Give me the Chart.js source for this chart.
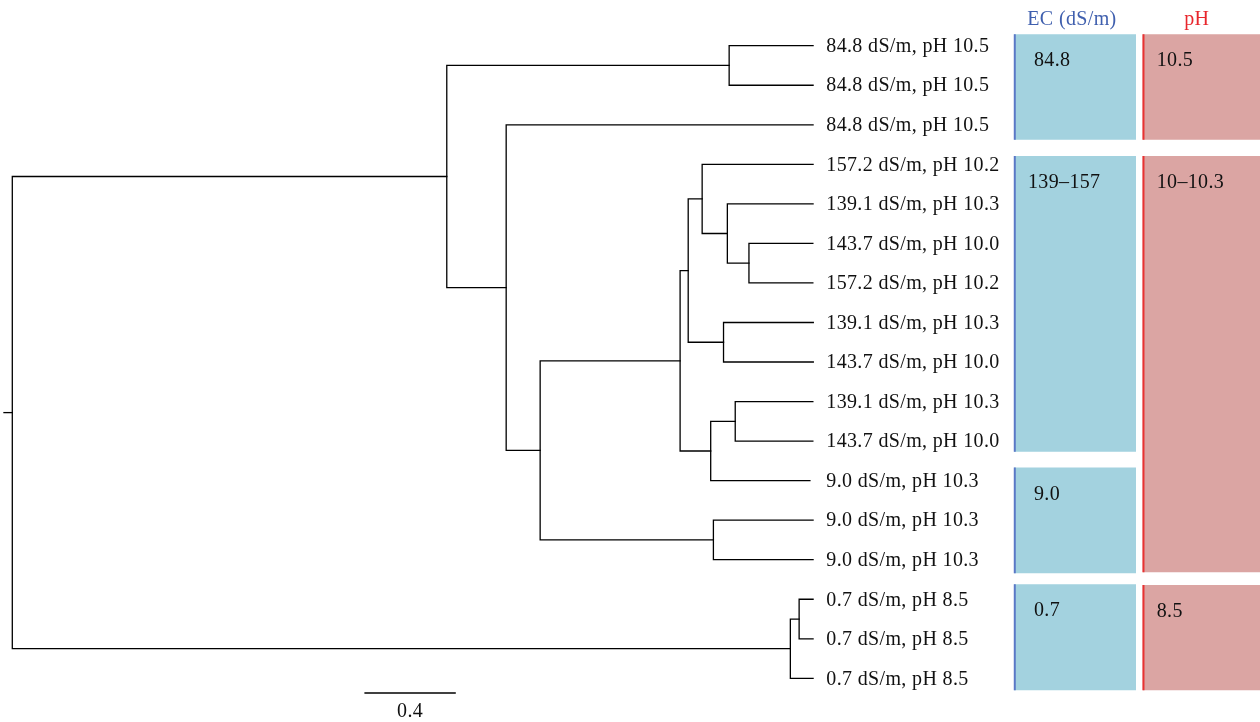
<!DOCTYPE html>
<html><head><meta charset="utf-8">
<script src="https://cdn.jsdelivr.net/npm/chart.js@4.4.1/dist/chart.umd.min.js"></script>
<style>html,body{margin:0;padding:0;background:#fff}canvas{display:block}</style>
</head><body>
<canvas id="c" width="1260" height="722"></canvas>
<script>
// ---------- data ----------
const leafLabels = [
  '84.8 dS/m, pH 10.5','84.8 dS/m, pH 10.5','84.8 dS/m, pH 10.5',
  '157.2 dS/m, pH 10.2','139.1 dS/m, pH 10.3','143.7 dS/m, pH 10.0','157.2 dS/m, pH 10.2',
  '139.1 dS/m, pH 10.3','143.7 dS/m, pH 10.0','139.1 dS/m, pH 10.3','143.7 dS/m, pH 10.0',
  '9.0 dS/m, pH 10.3','9.0 dS/m, pH 10.3','9.0 dS/m, pH 10.3',
  '0.7 dS/m, pH 8.5','0.7 dS/m, pH 8.5','0.7 dS/m, pH 8.5'
];
// nodes 0..16 are leaves, 17.. internal (17 = root)
const nodeParent = [20,20,21,27,29,30,30,28,28,31,31,26,24,24,32,32,19,
                    -1,17,17,18,18,21,22,22,23,23,25,25,27,29,26,19];
const branchLength = [0.373,0.373,1.364,0.493,0.381,0.284,0.284,0.399,0.399,0.345,0.345,0.441,0.443,0.443,0.062,0.062,0.101,
                      0,1.931,3.458,1.255,0.264,0.151,0.622,0.770,0.036,0.136,0.062,0.157,0.112,0.096,0.109,0.039];
const rootStub = 0.037;
const scaleBarLength = 0.4;
const scaleBarLabel = '0.4';

const ecHeader = 'EC (dS/m)';
const ecGroupLabels = ['84.8','139–157','9.0','0.7'];
const ecGroupStart  = [-0.29, 2.79, 10.67, 13.62];
const ecGroupEnd    = [2.38, 10.27, 13.34, 16.30];
const phHeader = 'pH';
const phGroupLabels = ['10.5','10–10.3','8.5'];
const phGroupStart  = [-0.29, 2.79, 13.64];
const phGroupEnd    = [2.38, 13.32, 16.30];

// ---------- tree layout ----------
const N = nodeParent.length, ROOT = 17, nLeaves = leafLabels.length;
const kids = Array.from({length:N},()=>[]);
nodeParent.forEach((p,i)=>{ if(p>=0) kids[p].push(i); });
const xv = new Array(N), yv = new Array(N);
function depth(i){ if(xv[i]!==undefined) return xv[i]; xv[i] = nodeParent[i]<0 ? 0 : depth(nodeParent[i]) + branchLength[i]; return xv[i]; }
for(let i=0;i<N;i++) depth(i);
function ypos(i){ if(yv[i]!==undefined) return yv[i]; if(i<nLeaves){yv[i]=i;return i;} const ys=kids[i].map(ypos); yv[i]=(Math.min(...ys)+Math.max(...ys))/2; return yv[i]; }
for(let i=0;i<N;i++) ypos(i);
const maxTip = Math.max(...xv.slice(0,nLeaves));

const TREE = {borderColor:'#000', borderWidth:1.3, pointRadius:0, showLine:true, fill:false, tension:0, order:0,
              borderCapStyle:'square', borderJoinStyle:'miter'};
const datasets = [];
datasets.push({...TREE, data:[{x:-rootStub,y:yv[ROOT]},{x:0,y:yv[ROOT]}]});
for(let n=nLeaves;n<N;n++){
  const k = kids[n].slice().sort((a,b)=>yv[a]-yv[b]);
  const a=k[0], b=k[k.length-1];
  datasets.push({...TREE, data:[{x:xv[a],y:yv[a]},{x:xv[n],y:yv[a]},{x:xv[n],y:yv[b]},{x:xv[b],y:yv[b]}]});
  for(let j=1;j<k.length-1;j++) datasets.push({...TREE, data:[{x:xv[n],y:yv[k[j]]},{x:xv[k[j]],y:yv[k[j]]}]});
}
// scale bar
const scaleBarX = 1.568, scaleBarY = 16.37;
datasets.push({...TREE, borderWidth:1.4, data:[{x:scaleBarX,y:scaleBarY},{x:scaleBarX+scaleBarLength,y:scaleBarY}]});

// side panels (column scale 'p': EC column 0..0.948, pH column 1..)
function rect(x0,x1,s,e,color){
  return {xAxisID:'p', data:[{x:x0,y:s},{x:x1,y:s},{x:x1,y:e},{x:x0,y:e},{x:x0,y:s}],
    showLine:true, fill:'shape', backgroundColor:color, borderColor:'rgba(0,0,0,0)', borderWidth:0, pointRadius:0, order:3};
}
function edge(x,s,e,color){
  return {xAxisID:'p', data:[{x:x,y:s},{x:x,y:e}], showLine:true, fill:false, borderColor:color, borderWidth:2, pointRadius:0, order:2};
}
const EC_X0=0, EC_X1=0.948, PH_X0=1.0, PH_X1=2.0;
ecGroupStart.forEach((s,i)=>{ datasets.push(rect(EC_X0,EC_X1,s,ecGroupEnd[i],'#a3d2df')); datasets.push(edge(EC_X0+0.006,s,ecGroupEnd[i],'#5a78c6')); });
phGroupStart.forEach((s,i)=>{ datasets.push(rect(PH_X0,PH_X1,s,phGroupEnd[i],'#dba5a3')); datasets.push(edge(PH_X0+0.006,s,phGroupEnd[i],'#e83232')); });

const FONT = '20px "Liberation Serif", "Times New Roman", serif';
const textPlugin = {
  id:'texts',
  afterDatasetsDraw(chart){
    const ctx=chart.ctx, xs=chart.scales.x, ys=chart.scales.y, ps=chart.scales.p;
    ctx.save();
    ctx.font = FONT; ctx.textBaseline='middle'; ctx.textAlign='left'; ctx.fillStyle='#111';
    if ('letterSpacing' in ctx) ctx.letterSpacing = '0.35px';
    const lx = xs.getPixelForValue(maxTip)+13;
    for(let i=0;i<nLeaves;i++) ctx.fillText(leafLabels[i], lx, ys.getPixelForValue(i)+1);
    ecGroupLabels.forEach((t,i)=>ctx.fillText(t, ps.getPixelForValue(EC_X0)+(t.length>4?14:20), ys.getPixelForValue(ecGroupStart[i])+27));
    phGroupLabels.forEach((t,i)=>ctx.fillText(t, ps.getPixelForValue(PH_X0)+14, ys.getPixelForValue(phGroupStart[i])+27));
    ctx.textAlign='center';
    ctx.fillText(scaleBarLabel, xs.getPixelForValue(scaleBarX+scaleBarLength/2), ys.getPixelForValue(scaleBarY)+19);
    ctx.fillStyle='#3f5fae'; ctx.fillText(ecHeader, ps.getPixelForValue(0.45), 20);
    ctx.fillStyle='#e8262c'; ctx.fillText(phHeader, ps.getPixelForValue(1.42), 20);
    ctx.restore();
  }
};

new Chart(document.getElementById('c'), {
  type:'scatter',
  data:{datasets},
  options:{
    responsive:false, maintainAspectRatio:false, devicePixelRatio:1, animation:false,
    layout:{padding:0},
    plugins:{legend:{display:false}, tooltip:{enabled:false}},
    elements:{line:{tension:0}},
    scales:{
      x:{type:'linear', display:false, min:-12.3/225, max:(1260-12.3)/225},
      p:{type:'linear', display:false, min:-1014/128.7, max:246/128.7},
      y:{type:'linear', display:false, reverse:true, min:-45.7/39.54, max:(722-45.7)/39.54}
    }
  },
  plugins:[textPlugin]
});
</script>
</body></html>
